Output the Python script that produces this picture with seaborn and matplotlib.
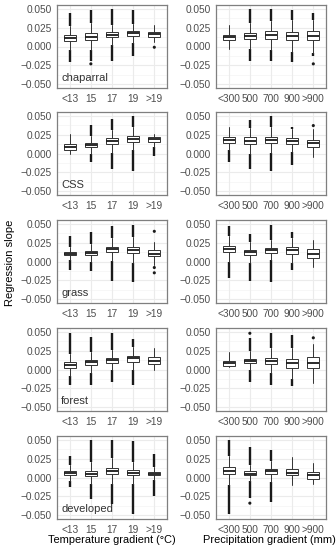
import numpy as np
import pandas as pd
import matplotlib
matplotlib.use("Agg")
import matplotlib.pyplot as plt
import seaborn as sns

temp_labels = ['<13', '15', '17', '19', '>19']
precip_labels = ['<300', '500', '700', '900', '>900']
cover_types = ['chaparral', 'CSS', 'grass', 'forest', 'developed']

# one row per box: q1, median, q3, whisker low, whisker high, outlier low, outlier high
chaparral_temp = [[0.007, 0.011, 0.0155, -0.005, 0.027, -0.020, 0.045],
                  [0.009, 0.0125, 0.018, -0.004, 0.031, -0.019, 0.049],
                  [0.012, 0.0155, 0.019, 0.002, 0.029, -0.019, 0.050],
                  [0.0145, 0.018, 0.021, 0.005, 0.030, -0.012, 0.049],
                  [0.0125, 0.0165, 0.0195, 0.006, 0.029, 0.006, 0.029]]
chaparral_precip = [[0.008, 0.012, 0.015, -0.003, 0.028, -0.003, 0.028],
                    [0.0095, 0.0145, 0.018, -0.003, 0.031, -0.019, 0.050],
                    [0.0105, 0.0155, 0.020, -0.004, 0.034, -0.019, 0.050],
                    [0.0085, 0.014, 0.0195, -0.007, 0.035, -0.020, 0.049],
                    [0.0085, 0.014, 0.021, -0.008, 0.035, -0.013, 0.044]]
css_temp = [[0.0045, 0.009, 0.013, 0.000, 0.026, 0.000, 0.026],
            [0.008, 0.011, 0.0145, 0.000, 0.023, -0.011, 0.038],
            [0.012, 0.016, 0.020, 0.001, 0.031, -0.021, 0.046],
            [0.0155, 0.0195, 0.0235, 0.004, 0.035, -0.023, 0.050],
            [0.0155, 0.019, 0.0215, 0.008, 0.026, -0.003, 0.026]]
css_precip = [[0.014, 0.018, 0.0215, 0.004, 0.035, -0.011, 0.035],
              [0.012, 0.017, 0.0215, -0.001, 0.034, -0.021, 0.044],
              [0.0135, 0.018, 0.022, 0.001, 0.035, -0.023, 0.050],
              [0.013, 0.017, 0.021, 0.002, 0.032, -0.015, 0.035],
              [0.008, 0.0145, 0.0185, -0.005, 0.033, -0.005, 0.033]]
grass_temp = [[0.0083, 0.010, 0.0127, 0.002, 0.019, -0.011, 0.034],
              [0.0083, 0.011, 0.0145, 0.000, 0.023, -0.012, 0.039],
              [0.0123, 0.016, 0.0197, 0.001, 0.031, -0.026, 0.047],
              [0.011, 0.015, 0.0197, -0.002, 0.033, -0.027, 0.048],
              [0.007, 0.0105, 0.0158, -0.005, 0.026, -0.005, 0.026]]
grass_precip = [[0.0123, 0.017, 0.021, -0.001, 0.034, -0.022, 0.047],
                [0.0088, 0.012, 0.0158, -0.002, 0.026, -0.026, 0.037],
                [0.0114, 0.0152, 0.018, 0.002, 0.028, -0.027, 0.049],
                [0.0105, 0.015, 0.0189, -0.002, 0.031, -0.011, 0.039],
                [0.0044, 0.0103, 0.016, -0.007, 0.029, -0.007, 0.029]]
forest_temp = [[0.0026, 0.0066, 0.0096, -0.008, 0.020, -0.021, 0.049],
               [0.0057, 0.0096, 0.0127, -0.005, 0.023, -0.020, 0.043],
               [0.0092, 0.0127, 0.0158, -0.001, 0.026, -0.016, 0.048],
               [0.0105, 0.0153, 0.0184, -0.001, 0.030, -0.021, 0.040],
               [0.007, 0.0114, 0.0171, 0.000, 0.029, 0.000, 0.029]]
forest_precip = [[0.0053, 0.008, 0.0114, 0.003, 0.023, 0.003, 0.023],
                 [0.0083, 0.0114, 0.0145, -0.001, 0.024, -0.017, 0.042],
                 [0.007, 0.0118, 0.0153, -0.005, 0.028, -0.020, 0.049],
                 [0.0026, 0.0088, 0.0136, -0.012, 0.029, -0.022, 0.046],
                 [0.0018, 0.0092, 0.0171, -0.018, 0.034, -0.018, 0.034]]
developed_temp = [[0.003, 0.0056, 0.0087, -0.004, 0.016, -0.012, 0.028],
                  [0.0017, 0.0052, 0.009, -0.009, 0.020, -0.029, 0.050],
                  [0.0043, 0.0082, 0.013, -0.009, 0.026, -0.035, 0.050],
                  [0.003, 0.0061, 0.0104, -0.008, 0.021, -0.048, 0.049],
                  [0.0035, 0.0052, 0.0078, -0.003, 0.014, -0.024, 0.031]]
developed_precip = [[0.0043, 0.0087, 0.0139, -0.010, 0.028, -0.048, 0.050],
                    [0.003, 0.0052, 0.0083, -0.005, 0.016, -0.027, 0.040],
                    [0.0048, 0.0087, 0.0117, -0.006, 0.022, -0.032, 0.036],
                    [0.003, 0.0065, 0.011, -0.010, 0.027, -0.010, 0.027],
                    [-0.002, 0.003, 0.0078, -0.009, 0.019, -0.009, 0.019]]

# isolated outliers: (box index, value)
chaparral_temp_dots = [(1, -0.023), (4, -0.001)]
chaparral_precip_dots = [(4, -0.023)]
css_temp_dots = []
css_precip_dots = [(4, 0.037)]
grass_temp_dots = [(4, 0.040), (4, -0.008), (4, -0.015)]
grass_precip_dots = []
forest_temp_dots = []
forest_precip_dots = [(1, 0.048), (4, 0.042)]
developed_temp_dots = []
developed_precip_dots = [(1, -0.034)]

temp_panels = [(chaparral_temp, chaparral_temp_dots), (css_temp, css_temp_dots),
               (grass_temp, grass_temp_dots), (forest_temp, forest_temp_dots),
               (developed_temp, developed_temp_dots)]
precip_panels = [(chaparral_precip, chaparral_precip_dots), (css_precip, css_precip_dots),
                 (grass_precip, grass_precip_dots), (forest_precip, forest_precip_dots),
                 (developed_precip, developed_precip_dots)]

cols = ['q1', 'med', 'q3', 'whislo', 'whishi', 'flo', 'fhi']
yticks = [-0.05, -0.025, 0.0, 0.025, 0.05]
ytick_labels = ['\u22120.050', '\u22120.025', '0.000', '0.025', '0.050']

sns.set_style('white')
plt.rcParams['font.family'] = ['Liberation Sans', 'DejaVu Sans']

fig = plt.figure(figsize=(3.36, 5.5), dpi=100)
W, H = 336, 550
row_tops = [5, 112, 220, 328, 436]
ph = 83
pw = 110
col_left = [57, 216]


def draw_panel(ax, rows, dots, labels):
    df = pd.DataFrame(rows, columns=cols)
    stats = []
    for i, r in df.iterrows():
        stats.append({'q1': r.q1, 'med': r.med, 'q3': r.q3,
                      'whislo': r.whislo, 'whishi': r.whishi, 'fliers': []})
    # background grid
    for y in yticks:
        ax.axhline(y, color='#EBEBEB', lw=0.8, zorder=0)
    for y in np.array(yticks[:-1]) + 0.0125:
        ax.axhline(y, color='#F4F4F4', lw=0.5, zorder=0)
    for x in range(len(labels)):
        ax.axvline(x, color='#EBEBEB', lw=0.8, zorder=0)
    # dense outlier columns
    for i, r in df.iterrows():
        if r.flo < r.whislo - 1e-9:
            ax.vlines(i, r.flo, r.whislo, color='#1a1a1a', lw=1.7, zorder=2)
        if r.fhi > r.whishi + 1e-9:
            ax.vlines(i, r.whishi, r.fhi, color='#1a1a1a', lw=1.7, zorder=2)
    ax.bxp(stats, positions=range(len(labels)), widths=0.55, showcaps=False,
           showfliers=False, patch_artist=True,
           boxprops=dict(facecolor='white', edgecolor='#333333', lw=0.7),
           whiskerprops=dict(color='#333333', lw=0.7),
           medianprops=dict(color='#1a1a1a', lw=1.3), zorder=3)
    if dots:
        dd = pd.DataFrame(dots, columns=['x', 'y'])
        sns.scatterplot(data=dd, x='x', y='y', ax=ax, color='#1a1a1a', s=5,
                        edgecolor='none', zorder=4, legend=False)
    ax.set_xlim(-0.6, len(labels) - 0.4)
    ax.set_ylim(-0.055, 0.055)
    ax.set_xticks(range(len(labels)))
    ax.set_xticklabels(labels)
    ax.set_yticks(yticks)
    ax.set_yticklabels(ytick_labels)
    ax.set_xlabel('')
    ax.set_ylabel('')
    ax.tick_params(axis='both', which='major', direction='out', length=2.5,
                   width=0.6, color='#333333', labelsize=7.3, labelcolor='#4D4D4D', pad=1.5)
    for s in ax.spines.values():
        s.set_visible(True)
        s.set_color('#7F7F7F')
        s.set_linewidth(0.9)


for r in range(5):
    bottom = (H - row_tops[r] - ph) / H
    for c, (panels, labels) in enumerate([(temp_panels, temp_labels),
                                          (precip_panels, precip_labels)]):
        ax = fig.add_axes([col_left[c] / W, bottom, pw / W, ph / H])
        rows, dots = panels[r]
        draw_panel(ax, rows, dots, labels)
        if c == 0:
            ax.text(-0.4, -0.0415, cover_types[r], fontsize=8, color='#333333',
                    ha='left', va='center')

fig.text(0.03, 1 - 262.5 / H, 'Regression slope', rotation=90, ha='center',
         va='center', fontsize=8, color='black')
fig.text((col_left[0] + pw / 2) / W, 0.018, 'Temperature gradient (\u00b0C)',
         ha='center', va='center', fontsize=7.9, color='black')
fig.text((col_left[1] + pw / 2) / W - 0.005, 0.018, 'Precipitation gradient (mm)',
         ha='center', va='center', fontsize=7.9, color='black')

plt.savefig('out.png', dpi=100)
plt.close()
